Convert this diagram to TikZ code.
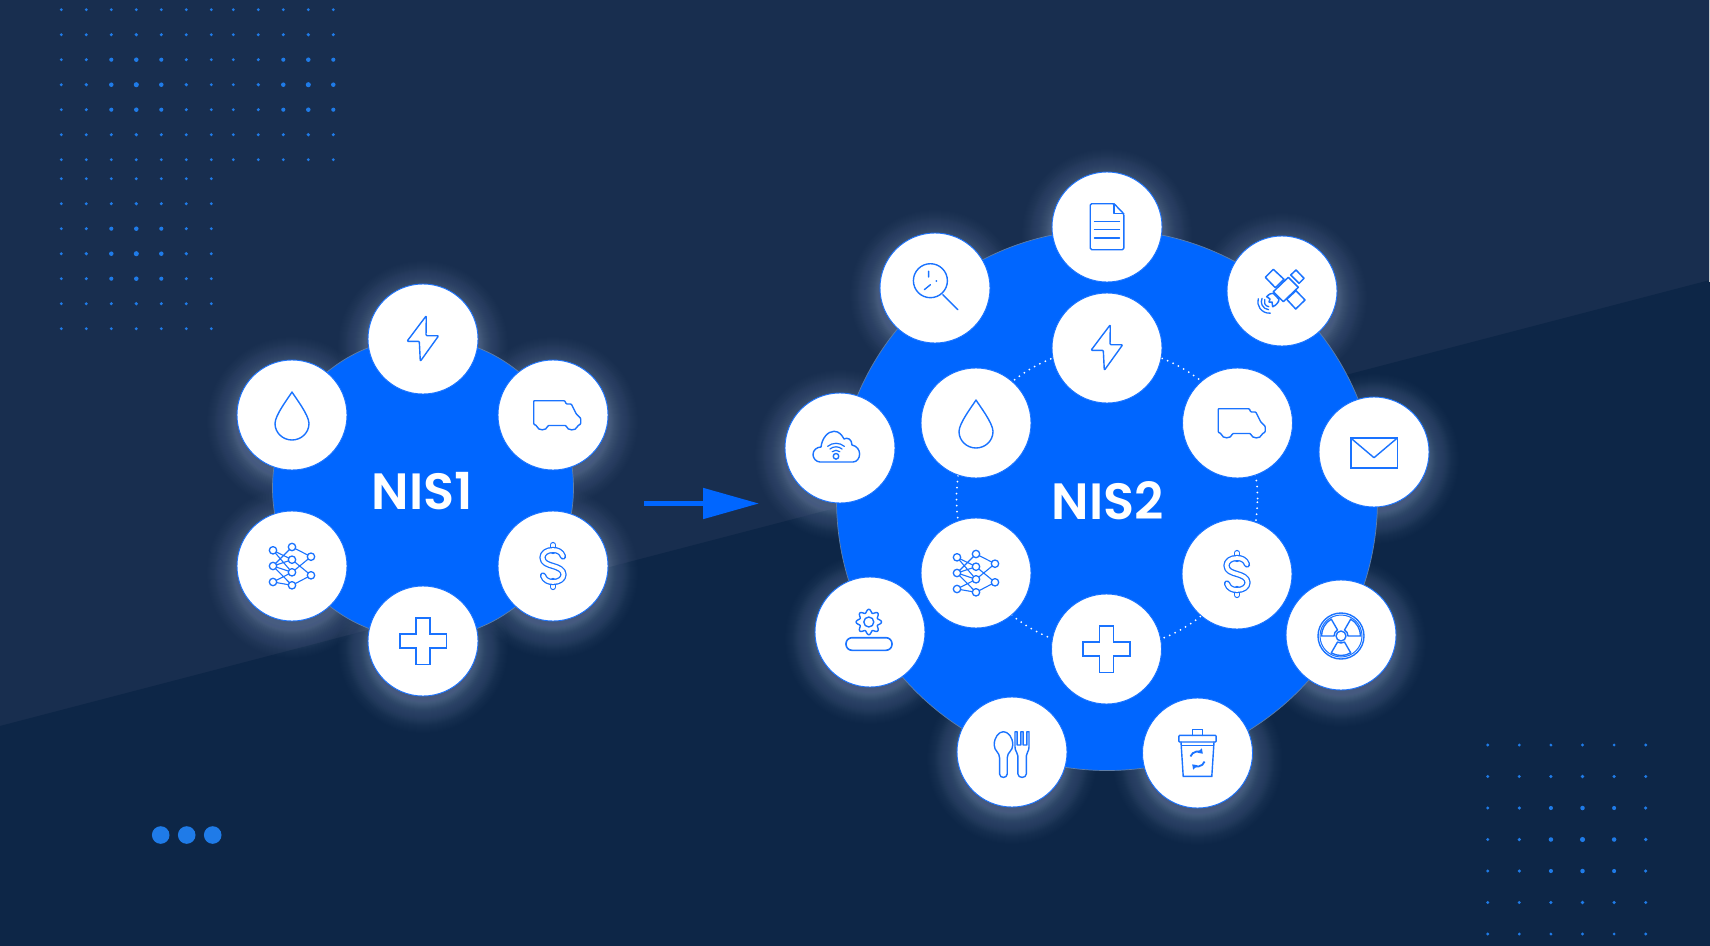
\documentclass[tikz,border=0pt]{standalone}
\usepackage{fontspec}
\newfontfamily\popfont{Poppins SemiBold}
\usetikzlibrary{arrows.meta,calc}
\definecolor{bgupper}{HTML}{182E4F}
\definecolor{bglower}{HTML}{0D2647}
\definecolor{hubblue}{HTML}{0066FF}
\definecolor{iconblue}{HTML}{1A73FF}
\definecolor{dotblue}{HTML}{1F7BE8}
\definecolor{hubedge}{HTML}{5F7FA8}
\definecolor{glowtint}{HTML}{C4D8FF}
\tikzset{
  hub/.style={circle,fill=hubblue,draw=hubedge,line width=0.7pt,inner sep=0pt},
  iconcircle/.style={circle,fill=white,draw=iconblue,line width=0.9pt,inner sep=0pt,minimum size=110pt},
  hubtext/.style={text=white,inner sep=0pt,font=\popfont\fontsize{51}{51}\selectfont},
  ring/.style={circle,draw=white,line width=2pt,line cap=round,dash pattern=on 0pt off 6pt,inner sep=0pt},
  ic/.style={draw=iconblue,line width=1.4pt,line join=round,line cap=round},
  icdouble/.style={draw=iconblue,line width=1.3pt,double=white,double distance=3.7pt,line join=round,line cap=round},
  iconbolt/.pic={\draw[ic,rounded corners=1pt] (3.3,-23.3) -- (-16,2.3) -- (-3.7,2.3) -- (-2.7,22.3) -- (15.7,-3.3) -- (3,-3.3) -- cycle;},
  icondrop/.pic={\draw[ic] (0,-23) .. controls (-3,-18) and (-17,0) .. (-17,8.5) .. controls (-17,18) and (-9,25) .. (0,25) .. controls (9,25) and (17,18) .. (17,8.5) .. controls (17,0) and (3,-18) .. cycle;},
  icontruck/.pic={\draw[ic,rounded corners=0.8pt] (-19.3,-14.3) -- (11.7,-14.3) -- (13.3,-11) -- (18.3,-11) -- (23.3,-1) -- (27.7,3.3) -- (27.7,9) -- (24.5,11) .. controls (23,16) and (14.5,16) .. (13,10.5) -- (-5,10.5) .. controls (-6.5,16) and (-15,16) .. (-16.5,10.5) -- (-19.3,9.3) -- cycle;},
  icondollar/.pic={
    \draw[icdouble] (0,-21) -- (0,-15);
    \draw[icdouble] (0,21) -- (0,15);
    \draw[icdouble] (10,-9.5) .. controls (8.5,-14.5) and (4,-16) .. (0,-16) .. controls (-6,-16) and (-10.5,-13) .. (-10.5,-8.5) .. controls (-10.5,-3) and (-5,-1.5) .. (0,0) .. controls (5,1.5) and (10.5,3.5) .. (10.5,8.5) .. controls (10.5,13) and (6,16) .. (0,16) .. controls (-4,16) and (-8.5,14.5) .. (-10,9.5);},
  iconplus/.pic={\draw[ic,line width=1.6pt,line cap=butt,line join=miter] (-7,-23.3) -- (7,-23.3) -- (7,-7) -- (23.3,-7) -- (23.3,7) -- (7,7) -- (7,23.3) -- (-7,23.3) -- (-7,7) -- (-23.3,7) -- (-23.3,-7) -- (-7,-7) -- cycle;},
  iconnet/.pic={
    \draw[ic,line width=1.1pt] (-19,-15.7) -- (0,-6.3) (-19,-15.7) -- (0,6.3)
      (-19,0) -- (0,-19) (-19,0) -- (0,-6.3) (-19,0) -- (0,6.3) (-19,0) -- (0,19.3)
      (-19,16) -- (0,6.3) (-19,16) -- (0,19.3)
      (0,-19) -- (19,-9.3) (0,-6.3) -- (19,9.3) (0,6.3) -- (19,-9.3) (0,19.3) -- (19,9.3);
    \foreach \nx/\ny in {-19/-15.7,-19/0,-19/16,0/-19,0/-6.3,0/6.3,0/19.3,19/-9.3,19/9.3}
      \filldraw[ic,fill=white,line width=1.3pt] (\nx,\ny) circle[radius=3.7];},
  icondoc/.pic={
    \draw[ic,rounded corners=1.5pt] (-16.8,-23.3) -- (7,-23.3) -- (16.8,-13.3) -- (16.8,22.7) -- (-16.8,22.7) -- cycle;
    \draw[ic] (7,-23.3) -- (7,-13.3) -- (16.8,-13.3);
    \draw[ic] (-12.5,-5.7) -- (12.5,-5.7) (-12.5,2.7) -- (12.5,2.7) (-12.5,11) -- (12.5,11);},
  iconsearch/.pic={
    \draw[ic] (-4.6,-7.3) circle[radius=17];
    \draw[ic] (7.9,6.7) -- (22.9,21.7);
    \draw[ic] (-6.4,-16.7) -- (-6.4,-11) (-10.7,1.7) -- (-4.6,-3.3);
    \fill[iconblue] (1.4,-7) circle[radius=1];},
  iconsat/.pic={
    \draw[ic,line width=1.5pt] (-8.7,-21.7) -- (2,-11.7) -- (-6.7,-3.3) -- (-16.7,-13.7) -- cycle;
    \draw[ic,line width=1.5pt] (14,-21) -- (22,-12.7) -- (17,-7.7) -- (8.7,-16) -- cycle;
    \draw[ic,line width=1.5pt] (14,-0.3) -- (23,9) -- (13.7,18) -- (4.7,8.3) -- cycle;
    \draw[ic,line width=1.5pt,fill=white] (6.3,-13.7) -- (16.3,-3.7) -- (1.3,10.7) -- (-8.7,0.7) -- cycle;
    \draw[ic,line width=1.5pt] (-15.3,5.7) .. controls (-13,3) and (-10.5,2) .. (-8.7,2.3) -- (-3,8.3) .. controls (-3,11) and (-6,14.5) .. (-9.3,15.7) -- (-10,11) -- (-13,11) -- (-12,8) -- cycle;
    \draw[ic,line width=1.3pt] (-12.7,10.7) ++(95:5) arc[start angle=95,end angle=205,radius=5];
    \draw[ic,line width=1.3pt] (-12.7,10.7) ++(95:8) arc[start angle=95,end angle=205,radius=8];
    \draw[ic,line width=1.3pt] (-12.7,10.7) ++(85:11.5) arc[start angle=85,end angle=195,radius=11.5];},
  iconcloud/.pic={
    \draw[ic] (-20,14) .. controls (-24,14) and (-27,10) .. (-27,6.5) .. controls (-27,2) and (-23,-1) .. (-19,-1) .. controls (-18,-10) and (-12,-16.7) .. (-6,-16.7) .. controls (-1,-16.7) and (2,-13) .. (4,-9) .. controls (7,-11) and (12,-9) .. (12,-3) .. controls (17,-2) and (19.6,2) .. (19.6,6) .. controls (19.6,10) and (17,14) .. (13,14) -- cycle;
    \draw[ic] (-4,8.3) circle[radius=2.8];
    \foreach \wr in {6,9.5,13}
      \draw[ic,line width=1.2pt] (-4,8.3) ++(230:\wr) arc[start angle=230,end angle=310,radius=\wr];},
  icongear/.pic={
    \draw[ic] plot[domain=0:360,samples=121,smooth] ({-1.2+(11+1.7*cos(8*\x))*cos(\x)},{-10+(11+1.7*cos(8*\x))*sin(\x)}) -- cycle;
    \draw[ic] (-1.2,-10) circle[radius=5];
    \draw[ic,rounded corners=6pt,line width=1.6pt] (-24,5.7) rectangle (22,18.3);},
  iconrad/.pic={
    \draw[ic] (0,1) circle[radius=23];
    \draw[ic,line width=1pt] (0,1) circle[radius=21];
    \draw[ic] (0,1) circle[radius=5];
    \foreach \ba in {180,300,60}
      \draw[ic] (0,1) ++(\ba:7) -- ++(\ba:12.5) arc[start angle=\ba,end angle=\ba+60,radius=19.5] -- ($(0,1)+(\ba+60:7)$) arc[start angle=\ba+60,end angle=\ba,radius=7] -- cycle;},
  iconfood/.pic={
    \draw[ic] (-12.4,6) -- (-12.4,22) .. controls (-12.4,26.5) and (-4.8,26.5) .. (-4.8,22) -- (-4.8,6) .. controls (-4.8,0) and (0.8,-1) .. (0.8,-7) .. controls (0.8,-15) and (-4,-20.3) .. (-8.6,-20.3) .. controls (-13,-20.3) and (-17.8,-15) .. (-17.8,-7) .. controls (-17.8,-1) and (-12.4,0) .. cycle;
    \draw[ic] (3,-20.3) -- (3,-5) .. controls (3,0) and (5.9,0) .. (5.9,4) -- (5.9,22) .. controls (5.9,26.5) and (14.3,26.5) .. (14.3,22) -- (14.3,4) .. controls (14.3,0) and (17,0) .. (17,-5) -- (17,-20.3) -- (14.9,-20.3) -- (14.9,-7) -- (11.1,-7) -- (11.1,-20.3) -- (8.9,-20.3) -- (8.9,-7) -- (5.1,-7) -- (5.1,-20.3) -- cycle;},
  icontrash/.pic={
    \draw[ic,line join=miter] (-5.3,-17.7) -- (-5.3,-23.3) -- (5,-23.3) -- (5,-17.7);
    \draw[ic,rounded corners=0.8pt] (-18.6,-17.7) rectangle (18.6,-11);
    \draw[ic,line join=miter] (-16.5,-11) -- (-14.3,23.3) -- (14.3,23.3) -- (16.5,-11);
    \draw[ic,line width=1.1pt] (-16.2,-7.7) -- (16.2,-7.7);
    \draw[iconblue,line width=1.8pt,-{Triangle[length=4.5pt,width=6pt]}] (0,6) ++(200:7.5) arc[start angle=200,end angle=315,radius=7.5];
    \draw[iconblue,line width=1.8pt,-{Triangle[length=4.5pt,width=6pt]}] (0,6) ++(20:7.5) arc[start angle=20,end angle=135,radius=7.5];},
  iconmail/.pic={
    \draw[ic,line cap=butt,line join=miter,line width=1.6pt] (-23.3,-14) rectangle (23.3,16);
    \draw[ic] (-23.3,-14) -- (0,5.7) -- (23.3,-14);}
}
\newcommand{\glowat}[2]{%
  \foreach \gk in {1,...,44} {
    \pgfmathsetmacro\gop{0.022*(1-\gk/45)}
    \fill[glowtint,opacity=\gop] (#1,#2+7) circle[radius={53+\gk}];
  }}
\newcommand{\dotblock}[8]{% x0,dx,y0,dy,ncols,nrows,centre col,centre row
  \foreach \dc in {0,...,#5}
    \foreach \dr in {0,...,#6} {
      \pgfmathsetmacro\drad{1.55+1.0*exp(-(((\dc-#7)*(\dc-#7)+(\dr-#8)*(\dr-#8))/3))}
      \fill[dotblue] ({#1+\dc*#2},{#3+\dr*#4}) circle[radius=\drad];
    }}
\begin{document}
\begin{tikzpicture}[x=1pt,y=-1pt]
\useasboundingbox (0,0) rectangle (1710,945);
% background
\fill[bgupper] (-2,-2) rectangle (1712,947);
\fill[bglower] (-2,726.5) -- (1712,279.5) -- (1712,947) -- (-2,947) -- cycle;
\fill[black!20] (1709,-2) rectangle (1712,282);
% dots
\dotblock{61.3}{25}{9.7}{25}{6}{6}{3}{3}
\dotblock{233.3}{25}{9.7}{25}{4}{6}{3}{3}
\dotblock{61.3}{25}{178.7}{25}{6}{6}{3}{3}
\dotblock{1487.7}{31.6}{745}{31.5}{5}{6}{3}{3}
\foreach \tx [count=\ti] in {160.7,186.7,212.7}
  \fill[dotblue] (\tx,835) circle[radius=8.8];
% glows
\foreach \gx/\gy in {423/339,553/415,553/566,423/641,292/566,292/415,
  1107/227,935/288,1282/291,1374/452,840/448,870/632,1341/635,1012/752,1197.5/753}
  {\glowat{\gx}{\gy}}
% hubs
\node[hub,minimum size=301pt] (nisone) at (423,488) {};
\node[hub,minimum size=541pt] (nistwo) at (1107,500) {};
\node[hubtext] (nisonelabel) at (422.5,491) {NIS1};
\node[hubtext] (nistwolabel) at (1107.5,501) {NIS2};
\node[ring,minimum size=301pt] (innerring) at (1107,498.5) {};
% arrow
\coordinate (arrowstart) at (644,503.5);
\coordinate (arrowend) at (759,503.5);
\draw[hubblue,line width=5pt,-{Triangle[length=56pt,width=30pt]}] (arrowstart) -- (arrowend);
% NIS1 circles
\node[iconcircle] (aBolt) at (423,339) {}; \pic at (aBolt) {iconbolt};
\node[iconcircle] (aTruck) at (553,415) {}; \pic at (aTruck) {icontruck};
\node[iconcircle] (aDollar) at (553,566) {}; \pic at (aDollar) {icondollar};
\node[iconcircle] (aPlus) at (423,641) {}; \pic at (aPlus) {iconplus};
\node[iconcircle] (aNet) at (292,566) {}; \pic at (aNet) {iconnet};
\node[iconcircle] (aDrop) at (292,415) {}; \pic at (aDrop) {icondrop};
% NIS2 inner circles
\node[iconcircle] (bBolt) at (1107,348) {}; \pic at (bBolt) {iconbolt};
\node[iconcircle] (bTruck) at (1237.5,423) {}; \pic at (bTruck) {icontruck};
\node[iconcircle] (bDollar) at (1237,574) {}; \pic at (bDollar) {icondollar};
\node[iconcircle] (bPlus) at (1106.5,649) {}; \pic at (bPlus) {iconplus};
\node[iconcircle] (bNet) at (976,573) {}; \pic at (bNet) {iconnet};
\node[iconcircle] (bDrop) at (976,423) {}; \pic at (bDrop) {icondrop};
% NIS2 outer circles
\node[iconcircle] (cDoc) at (1107,227) {}; \pic at (cDoc) {icondoc};
\node[iconcircle] (cSearch) at (935,288) {}; \pic at (cSearch) {iconsearch};
\node[iconcircle] (cSat) at (1282,291) {}; \pic at (cSat) {iconsat};
\node[iconcircle] (cMail) at (1374,452) {}; \pic at (cMail) {iconmail};
\node[iconcircle] (cCloud) at (840,448) {}; \pic at (cCloud) {iconcloud};
\node[iconcircle] (cGear) at (870,632) {}; \pic at (cGear) {icongear};
\node[iconcircle] (cRad) at (1341,635) {}; \pic at (cRad) {iconrad};
\node[iconcircle] (cFood) at (1012,752) {}; \pic at (cFood) {iconfood};
\node[iconcircle] (cTrash) at (1197.5,753) {}; \pic at (cTrash) {icontrash};
\end{tikzpicture}
\end{document}
